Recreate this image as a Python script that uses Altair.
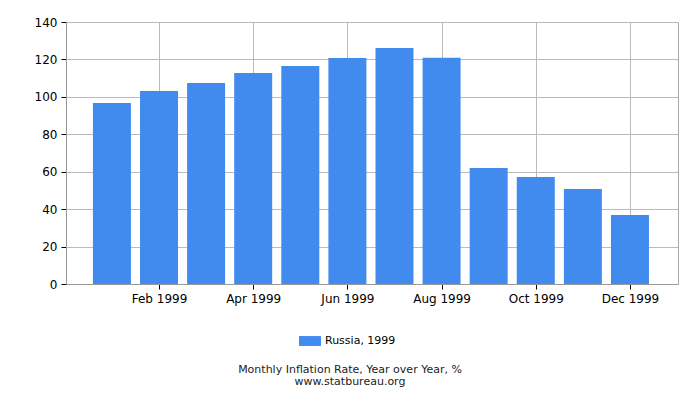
import altair as alt
import pandas as pd

months = list(range(1, 13))
month_labels = ["", "Jan 1999", "Feb 1999", "Mar 1999", "Apr 1999", "May 1999", "Jun 1999",
                "Jul 1999", "Aug 1999", "Sep 1999", "Oct 1999", "Nov 1999", "Dec 1999", ""]
values = [96.7, 103.1, 107.4, 112.8, 116.5, 120.8, 126.1, 120.9, 62.0, 57.2, 50.8, 36.9]
series = ["Russia, 1999"] * 12

df = pd.DataFrame({"m": months, "v": values, "s": series})

label_js = "[" + ",".join("'%s'" % l for l in month_labels) + "][datum.value]"

chart = alt.Chart(df).mark_bar(size=38).encode(
    x=alt.X("m:Q", scale=alt.Scale(domain=[0.025, 13.02], nice=False, zero=False, padding=0),
            axis=alt.Axis(values=[2, 4, 6, 8, 10, 12], labelExpr=label_js, title=None,
                          grid=True, gridColor="#bbbbbb", domainColor="#999999",
                          tickColor="#000000", tickSize=5, labelFontSize=12,
                          labelColor="#000000", labelPadding=4, labelFont="DejaVu Sans")),
    y=alt.Y("v:Q", scale=alt.Scale(domain=[0, 140], nice=False, padding=0),
            axis=alt.Axis(values=[0, 20, 40, 60, 80, 100, 120, 140], title=None,
                          grid=True, gridColor="#bbbbbb", domainColor="#999999",
                          tickColor="#000000", tickSize=5, labelFontSize=12,
                          labelColor="#000000", labelPadding=4, labelFont="DejaVu Sans")),
    color=alt.Color("s:N", scale=alt.Scale(range=["#418bef"]),
                    legend=alt.Legend(orient="none", legendX=233, legendY=308, title=None,
                                      symbolType="M-1,-0.45H1V0.45H-1Z", symbolSize=484,
                                      symbolStrokeWidth=0, symbolOpacity=1,
                                      labelFontSize=11, labelFont="DejaVu Sans",
                                      labelColor="#000000")),
).properties(
    width=612, height=262,
    padding={"left": 58, "top": 14, "right": 14, "bottom": 108},
    autosize=alt.AutoSizeParams(type="none"),
    title=alt.TitleParams(text="Monthly Inflation Rate, Year over Year, %",
                          subtitle="www.statbureau.org", orient="bottom", anchor="middle",
                          fontSize=11, fontWeight="normal", font="DejaVu Sans",
                          subtitleFontSize=11, subtitleFont="DejaVu Sans",
                          color="#222222", subtitleColor="#222222",
                          lineHeight=11, subtitleLineHeight=11,
                          subtitlePadding=1, offset=18, dx=-22),
).configure_view(stroke="#aaaaaa")

chart.save("out.html", embed_options={"renderer": "svg", "actions": False})
